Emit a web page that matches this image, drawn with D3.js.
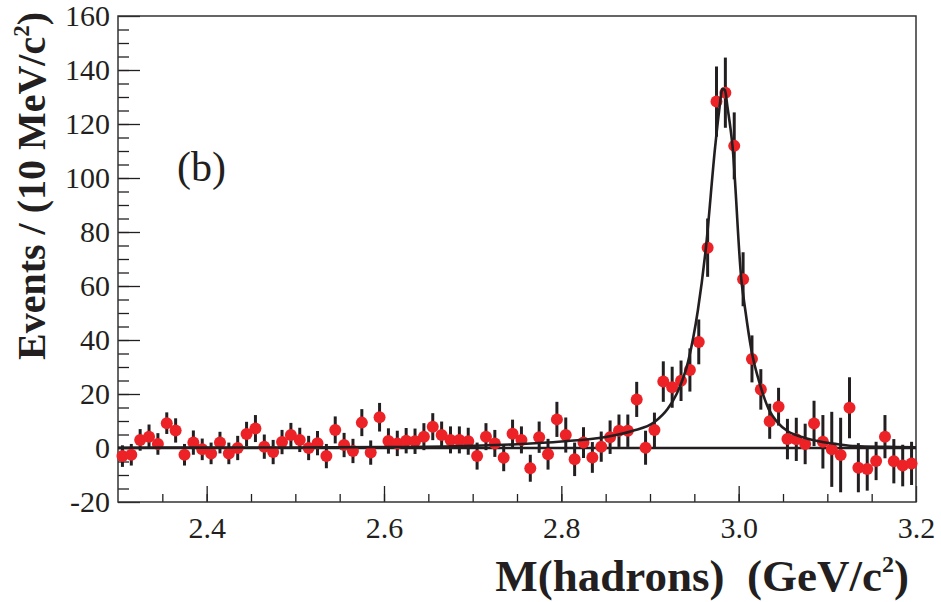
<!DOCTYPE html>
<html>
<head>
<meta charset="utf-8">
<script src="https://cdn.jsdelivr.net/npm/d3@7"></script>
<style>
  body { margin: 0; background: #fff; }
  svg text { font-family: "Liberation Serif", "Times New Roman", serif; fill: #231f20; }
</style>
</head>
<body>
<div class="chart"></div>
<script>
// bin centres (10 MeV bins), counts and errors
const massBins = d3.range(90).map(i => +(2.305 + i * 0.01).toFixed(3));
const counts = [
  -3, -2.5, 3, 4.2, 1.5, 9.2, 6.5, -2.5, 2, -0.5,
  -2, 2, -2, 0, 5.2, 7.2, 0.5, -1.5, 2.2, 4.8,
  3, 0, 1.8, -3, 6.7, 1.1, -1.1, 9.4, -1.7, 11.4,
  2.6, 1.7, 2.7, 2.5, 4.2, 7.9, 4.8, 3, 3, 2.5,
  -3, 4.2, 1.7, -3.6, 5.3, 3, -7.5, 4, -2.3, 10.6,
  4.8, -4.2, 2, -3.5, 0.5, 4, 6.4, 6.4, 18, 0.1,
  6.7, 24.6, 22.5, 24.9, 28.9, 39.3, 74.2, 128.3, 131.6, 111.9,
  62.5, 33, 21.7, 9.9, 15.3, 3.3, 3.2, 1.5, 9.1, 2.3,
  -0.5, -2.6, 14.9, -7.3, -7.8, -4.8, 4.2, -4.9, -6.5, -5.7
];
const errors = [
  4, 4, 4, 4.5, 4, 4, 4.5, 4, 4.5, 4,
  4, 4, 4, 4.5, 4.5, 5, 4.5, 4.5, 4.5, 4.5,
  4.5, 4.5, 4.5, 4.5, 5, 4.5, 4.5, 5, 4.5, 5.3,
  4.7, 4.7, 4.7, 4.7, 5, 5, 5, 5, 5, 5,
  5, 5, 5, 5, 5.2, 5, 5, 5.8, 5.7, 6.5,
  6.5, 6.2, 5.7, 5.7, 5.6, 6.2, 6, 6, 6.5, 6.3,
  6.4, 7.5, 7.6, 7.5, 8, 8.3, 10.8, 13, 13, 12.4,
  10, 8.7, 7.5, 6.5, 7, 7.5, 8, 7.5, 8.4, 9.9,
  13.9, 13.8, 11.3, 9.1, 8, 7.1, 8, 8.2, 7.7, 8
];

// fit curve
const fitMass = [2.30, 2.40, 2.50, 2.60, 2.68, 2.75, 2.80, 2.85, 2.88, 2.905, 2.92, 2.93, 2.943, 2.954,
  2.963, 2.9735, 2.978, 2.9817, 2.9845, 2.9875, 2.993, 3.003, 3.0075, 3.0145, 3.024, 3.034, 3.044,
  3.055, 3.074, 3.093, 3.112, 3.131, 3.168, 3.20];
const fitValue = [0.1, 0.15, 0.2, 0.35, 0.6, 1.4, 2.4, 4.1, 6.3, 9.6, 14.5, 20, 32, 51,
  74, 111.6, 125, 133, 132.5, 126, 112, 62.5, 51, 36, 23.6, 14.3, 9.4,
  6.3, 3.8, 2.3, 1.4, 0.7, 0.4, 0.25];

const xMajorTicks = [2.4, 2.6, 2.8, 3.0, 3.2];
const yMajorTicks = [-20, 0, 20, 40, 60, 80, 100, 120, 140, 160];

const width = 941, height = 602;
const plotLeft = 118, plotRight = 916, plotTop = 16, plotBottom = 502;
const ink = '#231f20';

const svg = d3.select('.chart').append('svg')
  .attr('width', width)
  .attr('height', height);

const x = d3.scaleLinear().domain([2.3, 3.2]).range([plotLeft, plotRight]);
const y = d3.scaleLinear().domain([-20, 160]).range([plotBottom, plotTop]);

// minor ticks
svg.append('g')
  .attr('transform', `translate(0,${plotBottom})`)
  .call(d3.axisBottom(x).tickValues(d3.range(2.35, 3.2, 0.05)).tickSize(-8).tickFormat(''))
  .call(g => g.select('.domain').remove());
svg.append('g')
  .attr('transform', `translate(${plotLeft},0)`)
  .call(d3.axisLeft(y).tickValues(d3.range(-15, 160, 5)).tickSize(-11).tickFormat(''))
  .call(g => g.select('.domain').remove());

// major ticks + labels
svg.append('g')
  .attr('transform', `translate(0,${plotBottom})`)
  .call(d3.axisBottom(x).tickValues(xMajorTicks).tickSize(-16).tickPadding(10).tickFormat(d3.format('.1f')))
  .call(g => g.select('.domain').remove())
  .call(g => g.selectAll('text').attr('font-size', 30).attr('dy', '0.85em'));
svg.append('g')
  .attr('transform', `translate(${plotLeft},0)`)
  .call(d3.axisLeft(y).tickValues(yMajorTicks).tickSize(-22).tickPadding(8).tickFormat(d => String(d)))
  .call(g => g.select('.domain').remove())
  .call(g => g.selectAll('text').attr('font-size', 30));

svg.selectAll('.tick line').attr('stroke', ink).attr('stroke-width', 1.3);

// frame
svg.append('rect')
  .attr('x', plotLeft).attr('y', plotTop)
  .attr('width', plotRight - plotLeft).attr('height', plotBottom - plotTop)
  .attr('fill', 'none')
  .attr('stroke', '#333')
  .attr('stroke-width', 1.5);

// zero line
svg.append('line')
  .attr('x1', plotLeft).attr('x2', plotRight)
  .attr('y1', y(0)).attr('y2', y(0))
  .attr('stroke', ink)
  .attr('stroke-width', 2.6);

const points = massBins.map((m, i) => ({m: m, v: counts[i], e: errors[i]}));

svg.selectAll('.err')
  .data(points)
  .enter()
  .append('line')
  .attr('class', 'err')
  .attr('x1', d => x(d.m)).attr('x2', d => x(d.m))
  .attr('y1', d => y(d.v - d.e)).attr('y2', d => y(d.v + d.e))
  .attr('stroke', ink)
  .attr('stroke-width', 3);

svg.selectAll('.pt')
  .data(points)
  .enter()
  .append('circle')
  .attr('class', 'pt')
  .attr('cx', d => x(d.m))
  .attr('cy', d => y(d.v))
  .attr('r', 6)
  .attr('fill', '#ec2227');

// fit
const fit = fitMass.map((m, i) => [m, fitValue[i]]);
svg.append('path')
  .datum(fit)
  .attr('fill', 'none')
  .attr('stroke', ink)
  .attr('stroke-width', 2.6)
  .attr('d', d3.line().x(d => x(d[0])).y(d => y(d[1])).curve(d3.curveMonotoneX));

// labels
svg.append('text')
  .attr('x', 177).attr('y', 181)
  .attr('font-size', 42)
  .text('(b)');

const yTitle = svg.append('text')
  .attr('transform', 'translate(45,186) rotate(-90)')
  .attr('text-anchor', 'middle')
  .attr('font-size', 40)
  .attr('font-weight', 'bold');
yTitle.append('tspan').text('Events / (10 MeV/c');
yTitle.append('tspan').attr('font-size', 23).attr('dy', -16).text('2');
yTitle.append('tspan').attr('dy', 16).text(')');

const xTitle = svg.append('text')
  .attr('x', 909).attr('y', 591)
  .attr('text-anchor', 'end')
  .attr('font-size', 45)
  .attr('font-weight', 'bold');
xTitle.append('tspan').text('M(hadrons)\u00a0\u00a0(GeV/c');
xTitle.append('tspan').attr('font-size', 24).attr('dy', -19).text('2');
xTitle.append('tspan').attr('dy', 19).text(')');
</script>
</body>
</html>
